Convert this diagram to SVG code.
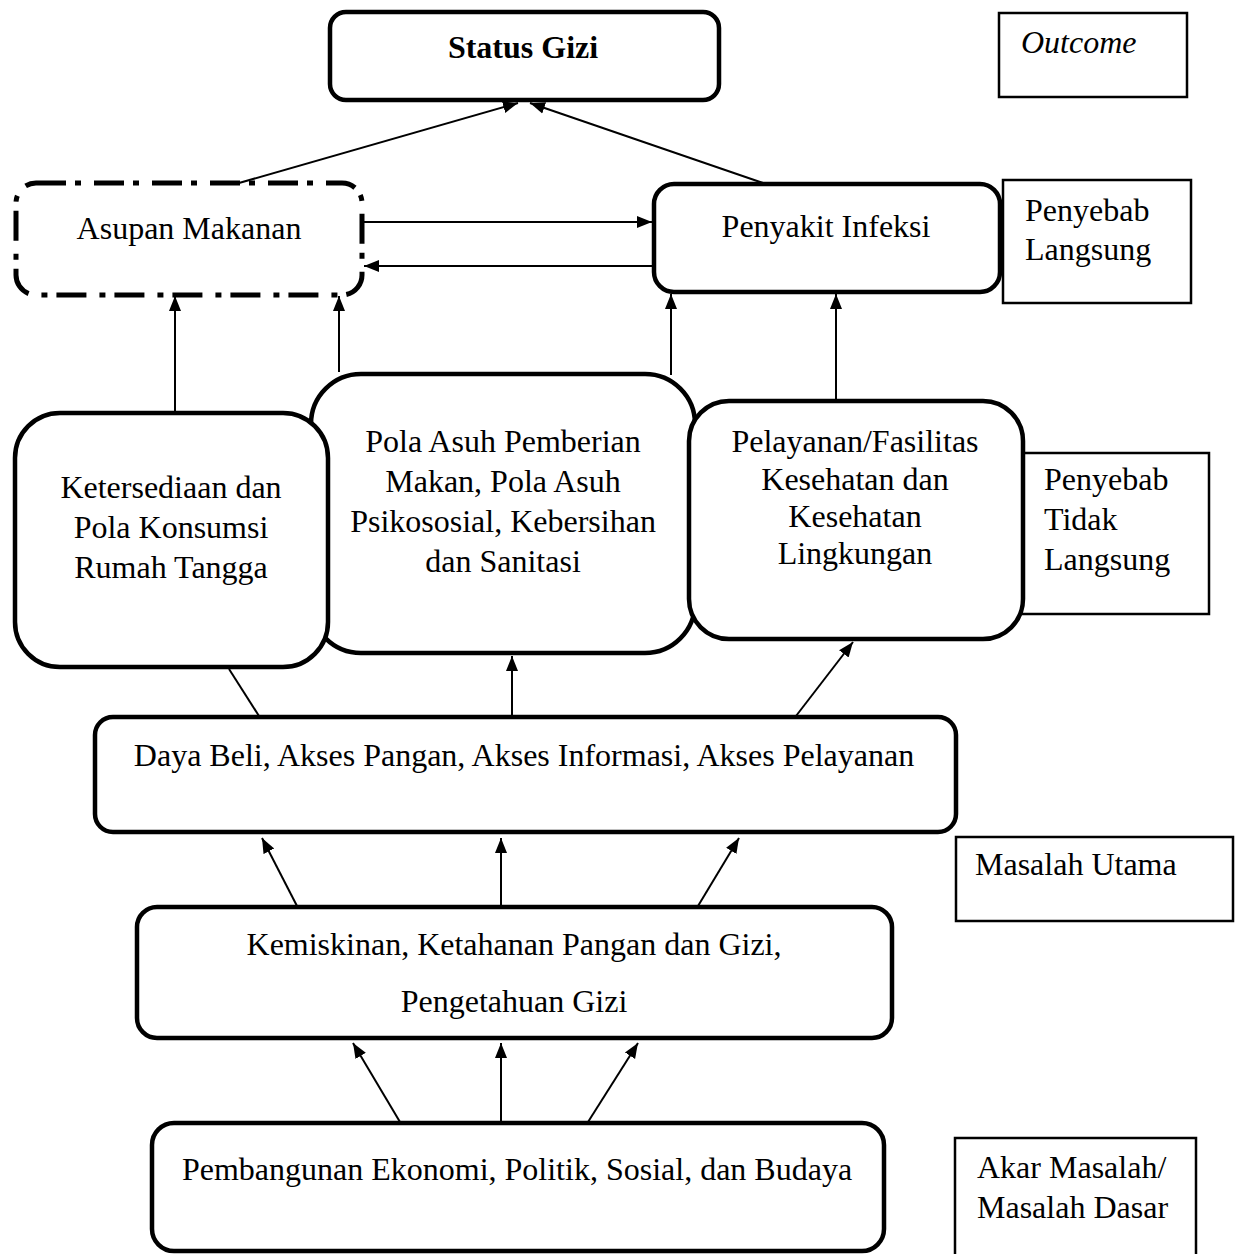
<svg xmlns="http://www.w3.org/2000/svg" width="1243" height="1254" viewBox="0 0 1243 1254">
<style>
  .box{fill:#fff;stroke:#000;stroke-width:4.5}
  .lab{fill:#fff;stroke:#000;stroke-width:2.5}
  .dash{fill:#fff;stroke:#000;stroke-width:5;stroke-dasharray:30 9 6 13}
  .t{font-family:"Liberation Serif","Times New Roman",serif;font-size:32px;fill:#000}
  .c{text-anchor:middle}
  .con line{stroke:#000;stroke-width:2}
</style>
<defs>
  <marker id="ah" markerUnits="userSpaceOnUse" markerWidth="16" markerHeight="14" refX="15" refY="7" orient="auto">
    <path d="M0,1 L15,7 L0,13 z" fill="#000"/>
  </marker>
</defs>
<rect width="1243" height="1254" fill="#fff"/>

<g id="status-gizi"><rect class="box" x="330" y="12" width="389" height="88" rx="16"/><text class="t c" x="523" y="58" font-weight="bold">Status Gizi</text></g>
<g id="outcome"><rect class="lab" x="999" y="13" width="188" height="84"/><text class="t" x="1021" y="53" font-style="italic">Outcome</text></g>
<g id="asupan-makanan"><rect class="dash" x="16" y="183" width="346" height="112" rx="20"/><text class="t c" x="189" y="239" font-size="30">Asupan Makanan</text></g>
<g id="penyakit-infeksi"><rect class="box" x="654" y="184" width="346" height="108" rx="20"/><text class="t c" x="826" y="237">Penyakit Infeksi</text></g>
<g id="penyebab-langsung"><rect class="lab" x="1003" y="180" width="188" height="123"/><text class="t" x="1025" y="221">Penyebab</text><text class="t" x="1025" y="260">Langsung</text></g>

<g id="penyebab-tidak-langsung"><rect class="lab" x="1010" y="453" width="199" height="161"/><text class="t" x="1044" y="490">Penyebab</text><text class="t" x="1044" y="530">Tidak</text><text class="t" x="1044" y="570">Langsung</text></g>
<g id="pola-asuh"><rect class="box" x="311" y="374" width="384" height="279" rx="50"/><text class="t c" x="503" y="452">Pola Asuh Pemberian</text><text class="t c" x="503" y="492">Makan, Pola Asuh</text><text class="t c" x="503" y="532">Psikososial, Kebersihan</text><text class="t c" x="503" y="572">dan Sanitasi</text></g>
<g id="ketersediaan"><rect class="box" x="15" y="413" width="313" height="254" rx="45"/><text class="t c" x="171" y="498">Ketersediaan dan</text><text class="t c" x="171" y="538">Pola Konsumsi</text><text class="t c" x="171" y="578">Rumah Tangga</text></g>
<g id="pelayanan"><rect class="box" x="689" y="401" width="334" height="238" rx="40"/><text class="t c" x="855" y="452">Pelayanan/Fasilitas</text><text class="t c" x="855" y="490">Kesehatan dan</text><text class="t c" x="855" y="527">Kesehatan</text><text class="t c" x="855" y="564">Lingkungan</text></g>

<g id="daya-beli"><rect class="box" x="95" y="717" width="861" height="115" rx="18"/><text class="t c" x="524" y="766">Daya Beli, Akses Pangan, Akses Informasi, Akses Pelayanan</text></g>
<g id="masalah-utama"><rect class="lab" x="956" y="837" width="277" height="84"/><text class="t" x="975" y="875">Masalah Utama</text></g>
<g id="kemiskinan"><rect class="box" x="137" y="907" width="755" height="131" rx="20"/><text class="t c" x="514" y="955">Kemiskinan, Ketahanan Pangan dan Gizi,</text><text class="t c" x="514" y="1012">Pengetahuan Gizi</text></g>
<g id="pembangunan"><rect class="box" x="152" y="1123" width="732" height="128" rx="22"/><text class="t c" x="517" y="1180">Pembangunan Ekonomi, Politik, Sosial, dan Budaya</text></g>
<g id="akar-masalah"><rect class="lab" x="955" y="1138" width="241" height="140"/><text class="t" x="977" y="1178">Akar Masalah/</text><text class="t" x="977" y="1218">Masalah Dasar</text></g>

<g id="connectors" class="con">
  <line x1="239" y1="183" x2="518" y2="103" marker-end="url(#ah)"/>
  <line x1="763" y1="183" x2="530" y2="103" marker-end="url(#ah)"/>
  <line x1="364" y1="222" x2="652" y2="222" marker-end="url(#ah)"/>
  <line x1="652" y1="266" x2="364" y2="266" marker-end="url(#ah)"/>
  <line x1="175" y1="411" x2="175" y2="296" marker-end="url(#ah)"/>
  <line x1="339" y1="372" x2="339" y2="296" marker-end="url(#ah)"/>
  <line x1="671" y1="375" x2="671" y2="294" marker-end="url(#ah)"/>
  <line x1="836" y1="399" x2="836" y2="294" marker-end="url(#ah)"/>
  <line x1="259" y1="716" x2="229" y2="669"/>
  <line x1="512" y1="716" x2="512" y2="656" marker-end="url(#ah)"/>
  <line x1="796" y1="716" x2="853" y2="642" marker-end="url(#ah)"/>
  <line x1="297" y1="906" x2="262" y2="838" marker-end="url(#ah)"/>
  <line x1="501" y1="906" x2="501" y2="838" marker-end="url(#ah)"/>
  <line x1="698" y1="906" x2="739" y2="838" marker-end="url(#ah)"/>
  <line x1="400" y1="1122" x2="353" y2="1043" marker-end="url(#ah)"/>
  <line x1="501" y1="1122" x2="501" y2="1043" marker-end="url(#ah)"/>
  <line x1="588" y1="1122" x2="638" y2="1043" marker-end="url(#ah)"/>
</g>
</svg>
